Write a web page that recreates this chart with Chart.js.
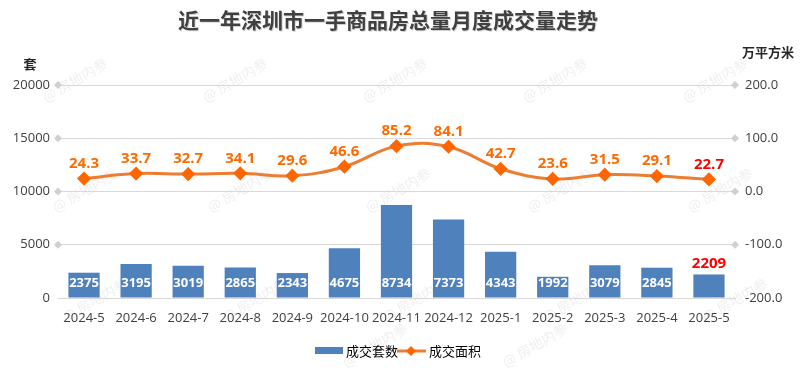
<!DOCTYPE html>
<html><head><meta charset="utf-8">
<script src="https://cdn.jsdelivr.net/npm/chart.js@4/dist/chart.umd.min.js"></script>
<style>html,body{margin:0;padding:0;background:#fff}#wrap{width:807px;height:383px}</style>
</head><body><div id="wrap"><canvas id="c" width="807" height="383"></canvas></div>
<script>
const categories = ['2024-5','2024-6','2024-7','2024-8','2024-9','2024-10','2024-11','2024-12','2025-1','2025-2','2025-3','2025-4','2025-5'];
const units = [2375,3195,3019,2865,2343,4675,8734,7373,4343,1992,3079,2845,2209];
const area = [24.3,33.7,32.7,34.1,29.6,46.6,85.2,84.1,42.7,23.6,31.5,29.1,22.7];
const seriesNames = ['成交套数','成交面积'];
const titleText = '近一年深圳市一手商品房总量月度成交量走势';
const leftUnit = '套';
const rightUnit = '万平方米';
const watermark = '@ 房地内参';

const FONT = '"Noto Sans CJK SC","Noto Sans",sans-serif';
const NUMFONT = '"Open Sans","Noto Sans",sans-serif';

const deco = {
  id:'deco',
  beforeDraw(chart){
    const ctx = chart.ctx;
    ctx.save();
    ctx.fillStyle='#fff';ctx.fillRect(0,0,chart.width,chart.height);
    ctx.fillStyle='rgba(0,0,0,0.07)';
    ctx.font='14px '+FONT;
    ctx.textAlign='center';ctx.textBaseline='middle';
    const rows=[[80,[75,235,395,555,715]],[190,[85,240,398,560,720]],[300,[95,255,415,575,735]],[345,[375,535]]];
    rows.forEach(([y,xs])=>xs.forEach(x=>{ctx.save();ctx.translate(x,y);ctx.rotate(-Math.PI/6);ctx.fillText(watermark,0,0);ctx.restore();}));
    ctx.restore();
  },
  afterDraw(chart){
    const ctx = chart.ctx, a = chart.chartArea;
    const ys = chart.scales.y;
    ctx.save();
    ctx.fillStyle='#d0d0d0';
    [5000,10000,15000,20000].forEach(v=>{
      const y = ys.getPixelForValue(v);
      [a.left,a.right].forEach(x=>{
        ctx.beginPath();ctx.moveTo(x,y-4);ctx.lineTo(x+4,y);ctx.lineTo(x,y+4);ctx.lineTo(x-4,y);ctx.closePath();ctx.fill();
      });
    });
    ctx.font='bold 21px '+FONT;
    ctx.textAlign='center';ctx.textBaseline='middle';
    ctx.fillStyle='rgba(0,0,0,0.18)';
    ctx.fillText(titleText,389,21);
    ctx.fillStyle='#404040';
    ctx.fillText(titleText,388,20);
    ctx.font='bold 13px '+FONT;
    ctx.fillStyle='#262626';
    ctx.fillText(leftUnit,30,64);
    ctx.fillText(rightUnit,768,52);
    ctx.fillStyle='#4f81bd';
    ctx.fillRect(315,347,28,7);
    ctx.font='13px '+FONT;ctx.fillStyle='#000';ctx.textAlign='left';
    ctx.fillText(seriesNames[0],346,351);
    ctx.strokeStyle='#ed7d31';ctx.lineWidth=3;
    ctx.beginPath();ctx.moveTo(397,351);ctx.lineTo(426,351);ctx.stroke();
    ctx.fillStyle='#ff6600';
    ctx.beginPath();ctx.moveTo(411,346);ctx.lineTo(416,351);ctx.lineTo(411,356);ctx.lineTo(406,351);ctx.closePath();ctx.fill();
    ctx.fillStyle='#000';
    ctx.fillText(seriesNames[1],429,351);
    ctx.restore();
  },
  afterDatasetsDraw(chart){
    const ctx = chart.ctx;
    const bars = chart.getDatasetMeta(0).data;
    const pts = chart.getDatasetMeta(1).data;
    const last = units.length-1;
    ctx.save();
    ctx.textAlign='center';ctx.textBaseline='middle';
    bars.forEach((b,i)=>{
      if(i===last){
        ctx.fillStyle='#ff0000';ctx.font='bold 15px '+NUMFONT;
        ctx.fillText(String(units[i]),b.x,b.y-11);
      } else {
        ctx.fillStyle='#ffffff';ctx.font='bold 13px '+NUMFONT;
        ctx.fillText(String(units[i]),b.x,b.base-14);
      }
    });
    ctx.font='bold 15px '+NUMFONT;
    pts.forEach((p,i)=>{
      ctx.fillStyle = i===last ? '#ff0000' : '#ff6a00';
      ctx.fillText(area[i].toFixed(1),p.x,p.y-15);
    });
    ctx.restore();
  }
};

new Chart(document.getElementById('c'),{
  data:{
    labels:categories,
    datasets:[
      {type:'bar',label:seriesNames[0],data:units,backgroundColor:'#4f81bd',yAxisID:'y',barPercentage:0.6,categoryPercentage:1,order:2},
      {type:'line',label:seriesNames[1],data:area,yAxisID:'y1',borderColor:'#ed7d31',borderWidth:3,tension:0.4,
       pointStyle:'rectRot',pointRadius:5,pointBackgroundColor:'#ff6600',pointBorderColor:'#ff6600',order:1}
    ]
  },
  options:{
    responsive:false,animation:false,
    layout:{padding:{top:85,bottom:55,left:0,right:0}},
    plugins:{legend:{display:false},title:{display:false},tooltip:{enabled:false}},
    scales:{
      x:{offset:true,grid:{display:false},border:{color:'#d9d9d9'},
         ticks:{font:{size:13,family:NUMFONT},color:'#404040',maxRotation:0,autoSkip:false,padding:4},
         afterFit(s){s.height=30;}},
      y:{position:'left',min:0,max:20000,
         ticks:{stepSize:5000,font:{size:13,family:NUMFONT},color:'#404040',padding:8,callback:v=>String(v)},
         grid:{color:'#d9d9d9',drawTicks:false},border:{display:false},
         afterFit(s){s.width=58;}},
      y1:{position:'right',min:-200,max:200,
         ticks:{stepSize:100,font:{size:13,family:NUMFONT},color:'#404040',padding:10,callback:v=>Number(v).toFixed(1)},
         grid:{display:false,drawTicks:false},border:{display:false},
         afterFit(s){s.width=72;}}
    }
  },
  plugins:[deco]
});
</script></body></html>
